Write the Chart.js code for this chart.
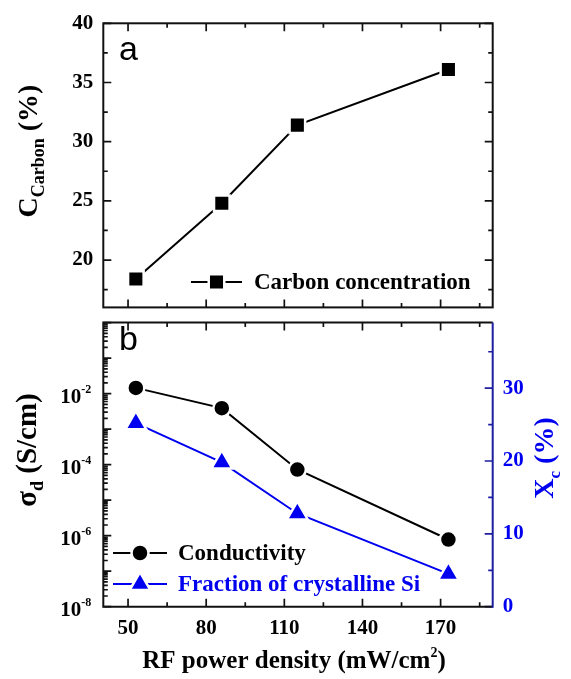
<!DOCTYPE html>
<html><head><meta charset="utf-8">
<script src="https://cdn.jsdelivr.net/npm/chart.js@4.4.0/dist/chart.umd.min.js"></script>
<style>
html,body{margin:0;padding:0;background:#fff;}
#wrap{position:relative;width:571px;height:679px;overflow:hidden;}
canvas{position:absolute;left:0;}
#c1{top:0;width:571px;height:330px;}
#c2{top:300px;width:571px;height:379px;}
</style></head><body>
<div id="wrap">
<canvas id="c1" width="571" height="330"></canvas>
<canvas id="c2" width="571" height="379"></canvas>
</div>
<script>
// ---- data ----
const rfPower = [53, 86, 115, 173];
const carbonConc = [18.4, 24.8, 31.4, 36.1];
const conductivity = [1.45e-2, 3.9e-3, 7.3e-5, 7.8e-7];
const crystFraction = [25.2, 19.8, 12.8, 4.5];
const xTicks = [50, 80, 110, 140, 170];
const carbonTicks = [20, 25, 30, 35, 40];
const condTickExps = [-8, -6, -4, -2];
const xcTicks = [0, 10, 20, 30];

// ---- styling ----
const FONT = "'Liberation Serif', 'Times New Roman', serif";
const SANS = "'Liberation Sans', Arial, sans-serif";
const BLUE = '#0000f0';
const AXBLUE = '#1e1ea0';
const AREA_L = 103.3, AREA_R = 492.7;
const tickFont = {family: FONT, size: 21, weight: 'bold'};

function drawRich(ctx, parts, x, y, align) {
  let total = 0;
  parts.forEach(p => { ctx.font = 'bold ' + p.size + 'px ' + FONT; p.w = ctx.measureText(p.t).width; total += p.w; });
  let cx = align === 'center' ? x - total / 2 : (align === 'right' ? x - total : x);
  ctx.textAlign = 'left'; ctx.textBaseline = 'alphabetic';
  parts.forEach(p => {
    ctx.font = 'bold ' + p.size + 'px ' + FONT;
    ctx.fillStyle = p.color || '#000';
    ctx.fillText(p.t, cx, y + (p.dy || 0));
    cx += p.w;
  });
}
function rotatedRich(ctx, parts, cx, cy) {
  ctx.save(); ctx.translate(cx, cy); ctx.rotate(-Math.PI / 2);
  drawRich(ctx, parts, 0, 0, 'center');
  ctx.restore();
}
function minorsOf(vals, min, max) {
  const step = vals[1] - vals[0], out = [];
  for (let v = vals[0] - step / 2; v <= max + 1e-9; v += step) if (v >= min - 1e-9) out.push(v);
  return out;
}
function marks(ctx, scale, area, values, len, side, color) {
  ctx.save(); ctx.strokeStyle = color; ctx.lineWidth = 1.7; ctx.beginPath();
  values.forEach(v => {
    const p = scale.getPixelForValue(v);
    if (side === 'bottom') { ctx.moveTo(p, area.bottom); ctx.lineTo(p, area.bottom - len); }
    if (side === 'top') { ctx.moveTo(p, area.top); ctx.lineTo(p, area.top + len); }
    if (side === 'left') { ctx.moveTo(area.left, p); ctx.lineTo(area.left + len, p); }
    if (side === 'right') { ctx.moveTo(area.right, p); ctx.lineTo(area.right - len, p); }
  });
  ctx.stroke(); ctx.restore();
}
function marker(ctx, style, r, x, y, color) {
  ctx.save();
  ctx.fillStyle = color; ctx.strokeStyle = '#fff'; ctx.lineWidth = 2.5;
  if (Chart.helpers && Chart.helpers.drawPoint) {
    Chart.helpers.drawPoint(ctx, {pointStyle: style, radius: r, rotation: 0, borderWidth: 2.5}, x, y);
  }
  ctx.restore();
}
function legendRow(ctx, y, x0, x1, style, r, color, text, textX, fontSize) {
  ctx.save();
  ctx.strokeStyle = color; ctx.lineWidth = 2;
  ctx.beginPath(); ctx.moveTo(x0, y); ctx.lineTo(x1, y); ctx.stroke();
  marker(ctx, style, r, (x0 + x1) / 2, y, color);
  ctx.font = 'bold ' + fontSize + 'px ' + FONT; ctx.fillStyle = color;
  ctx.textAlign = 'left'; ctx.textBaseline = 'middle';
  ctx.fillText(text, textX, y + 1);
  ctx.restore();
}
const setTicks = arr => (s => { s.ticks = arr.map(v => ({value: v})); });

// ---- top panel ----
const topPlugin = {
  id: 'topDeco',
  afterDraw(chart) {
    const ctx = chart.ctx, a = chart.chartArea, x = chart.scales.x, y = chart.scales.y;
    const xMin = minorsOf(xTicks, x.min, x.max), yMin = minorsOf(carbonTicks, y.min, y.max);
    ['bottom', 'top'].forEach(s => { marks(ctx, x, a, xTicks, 8, s, '#111'); marks(ctx, x, a, xMin, 4.5, s, '#111'); });
    ['left', 'right'].forEach(s => { marks(ctx, y, a, carbonTicks, 8, s, '#111'); marks(ctx, y, a, yMin, 4.5, s, '#111'); });
    ctx.save(); ctx.strokeStyle = '#111'; ctx.lineWidth = 2;
    ctx.strokeRect(a.left, a.top, a.right - a.left, a.bottom - a.top); ctx.restore();
    ctx.save(); ctx.font = '34px ' + SANS; ctx.fillStyle = '#000'; ctx.textAlign = 'left'; ctx.textBaseline = 'alphabetic';
    ctx.fillText('a', 119, 60); ctx.restore();
    rotatedRich(ctx, [{t: 'C', size: 28}, {t: 'Carbon', size: 18, dy: 7}, {t: ' (%)', size: 28}], 37, 151);
    legendRow(ctx, 282, 191, 242, 'rect', 11, '#000', chart.data.datasets[0].label, 254, 23);
  }
};
new Chart(document.getElementById('c1'), {
  type: 'line',
  data: { datasets: [{
    label: 'Carbon concentration',
    data: rfPower.map((v, i) => ({x: v, y: carbonConc[i]})),
    borderColor: '#000', borderWidth: 2, pointStyle: 'rect', pointRadius: 11,
    pointBackgroundColor: '#000', pointBorderColor: '#fff', pointBorderWidth: 2.5, tension: 0
  }]},
  options: {
    responsive: false, animation: false, events: [],
    layout: {padding: {top: 23.3, right: 571 - AREA_R, bottom: 330 - 314.3, left: 0}},
    plugins: {legend: {display: false}, tooltip: {enabled: false}},
    scales: {
      x: {type: 'linear', min: 40.5, max: 190, display: false},
      y: {type: 'linear', min: 16, max: 40, afterBuildTicks: setTicks(carbonTicks),
          ticks: {font: tickFont, color: '#000', padding: 10},
          grid: {display: false, drawTicks: false}, border: {display: false},
          afterFit: s => { s.width = AREA_L; }}
    }
  },
  plugins: [topPlugin]
});

// ---- bottom panel ----
const botPlugin = {
  id: 'botDeco',
  afterDraw(chart) {
    const ctx = chart.ctx, a = chart.chartArea, x = chart.scales.x, y = chart.scales.y, y2 = chart.scales.y2;
    const xMin = minorsOf(xTicks, x.min, x.max);
    ['bottom', 'top'].forEach(s => { marks(ctx, x, a, xTicks, 8, s, '#111'); marks(ctx, x, a, xMin, 4.5, s, '#111'); });
    const dec = [], logMinor = [];
    const eMin = Math.round(Math.log10(y.min)), eMax = Math.round(Math.log10(y.max));
    for (let e = eMin; e <= eMax; e++) {
      dec.push(Math.pow(10, e));
      if (e < eMax) for (let k = 2; k <= 9; k++) logMinor.push(k * Math.pow(10, e));
    }
    marks(ctx, y, a, dec, 8, 'left', '#111'); marks(ctx, y, a, logMinor, 4.5, 'left', '#111');
    const y2Min = minorsOf(xcTicks, y2.min, y2.max);
    marks(ctx, y2, a, xcTicks, 8, 'right', AXBLUE); marks(ctx, y2, a, y2Min, 4.5, 'right', AXBLUE);
    ctx.save(); ctx.lineWidth = 2; ctx.strokeStyle = '#111';
    ctx.beginPath(); ctx.moveTo(a.right, a.top); ctx.lineTo(a.left, a.top); ctx.lineTo(a.left, a.bottom); ctx.lineTo(a.right, a.bottom); ctx.stroke();
    ctx.strokeStyle = AXBLUE; ctx.beginPath(); ctx.moveTo(a.right, a.top); ctx.lineTo(a.right, a.bottom + 1); ctx.stroke();
    ctx.restore();
    condTickExps.forEach(e => {
      const p = y.getPixelForValue(Math.pow(10, e));
      drawRich(ctx, [{t: '10', size: 21}, {t: String(e), size: 12, dy: -10}], a.left - 12, p + 9, 'right');
    });
    ctx.save(); ctx.font = '34px ' + SANS; ctx.fillStyle = '#000'; ctx.textAlign = 'left'; ctx.textBaseline = 'alphabetic';
    ctx.fillText('b', 119, 50); ctx.restore();
    rotatedRich(ctx, [{t: '\u03c3', size: 29}, {t: 'd', size: 18, dy: 7}, {t: ' (S/cm)', size: 29}], 36, 150);
    rotatedRich(ctx, [{t: 'X', size: 28, color: BLUE}, {t: 'c', size: 17, dy: 7, color: BLUE}, {t: ' (%)', size: 28, color: BLUE}], 553, 158);
    drawRich(ctx, [{t: 'RF power density (mW/cm', size: 25}, {t: '2', size: 14, dy: -11}, {t: ')', size: 25}], (a.left + a.right) / 2 - 4, 368, 'center');
    legendRow(ctx, 253, 113, 167, 'circle', 8.5, '#000', chart.data.datasets[0].label, 178, 23);
    legendRow(ctx, 284, 113, 167, 'triangle', 12, BLUE, chart.data.datasets[1].label, 178, 23);
  }
};
new Chart(document.getElementById('c2'), {
  type: 'line',
  data: { datasets: [{
    label: 'Conductivity', yAxisID: 'y',
    data: rfPower.map((v, i) => ({x: v, y: conductivity[i]})),
    borderColor: '#000', borderWidth: 2, pointStyle: 'circle', pointRadius: 8.5,
    pointBackgroundColor: '#000', pointBorderColor: '#fff', pointBorderWidth: 2.5
  }, {
    label: 'Fraction of crystalline Si', yAxisID: 'y2',
    data: rfPower.map((v, i) => ({x: v, y: crystFraction[i]})),
    borderColor: BLUE, borderWidth: 2, pointStyle: 'triangle', pointRadius: 12,
    pointBackgroundColor: BLUE, pointBorderColor: '#fff', pointBorderWidth: 2.5
  }]},
  options: {
    responsive: false, animation: false, events: [],
    layout: {padding: {top: 14.3, right: 0, bottom: 0, left: 0}},
    plugins: {legend: {display: false}, tooltip: {enabled: false}},
    scales: {
      x: {type: 'linear', min: 40.5, max: 190, afterBuildTicks: setTicks(xTicks),
          ticks: {font: tickFont, color: '#000', padding: 9},
          grid: {display: false, drawTicks: false}, border: {display: false},
          afterFit: s => { s.height = 379 - 306.7; }},
      y: {type: 'logarithmic', position: 'left', min: 1e-8, max: 1,
          afterBuildTicks: setTicks(condTickExps.map(e => Math.pow(10, e))),
          ticks: {display: false}, grid: {display: false, drawTicks: false}, border: {display: false},
          afterFit: s => { s.width = AREA_L; }},
      y2: {type: 'linear', position: 'right', min: 0, max: 39, afterBuildTicks: setTicks(xcTicks),
           ticks: {font: tickFont, color: BLUE, padding: 10},
           grid: {display: false, drawTicks: false}, border: {display: false},
           afterFit: s => { s.width = 571 - AREA_R; }}
    }
  },
  plugins: [botPlugin]
});
</script>
</body></html>
